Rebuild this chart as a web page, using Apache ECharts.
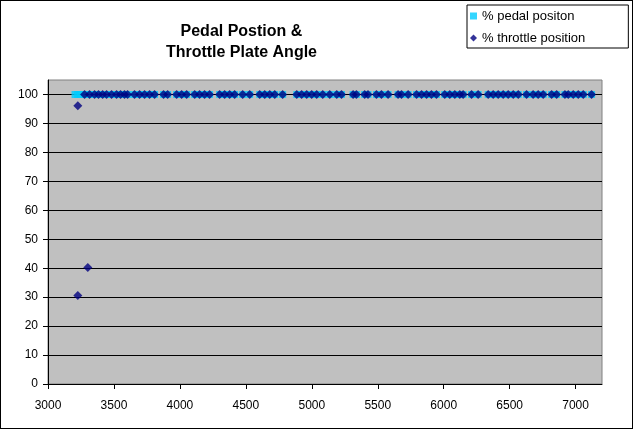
<!DOCTYPE html>
<html>
<head>
<meta charset="utf-8">
<script src="https://cdn.jsdelivr.net/npm/echarts@6/dist/echarts.min.js"></script>
<style>
html,body{margin:0;padding:0;background:#fff;}
#frame{width:633px;height:429px;border:1px solid #000;box-sizing:border-box;position:relative;}
#chart{position:absolute;left:-1px;top:-1px;width:634px;height:430px;}
</style>
</head>
<body>
<div id="frame"><div id="chart"></div></div>
<script>
// RPM values where pedal position was logged
const pedalRpm = [3205, 3225, 3245, 3277, 3315, 3353, 3383, 3414, 3444, 3482, 3520, 3550, 3580, 3603, 3656, 3694, 3732, 3770, 3808, 3876, 3907, 3975, 4013, 4051, 4112, 4149, 4187, 4225, 4301, 4339, 4377, 4415, 4476, 4529, 4605, 4643, 4681, 4719, 4779, 4886, 4923, 4961, 4999, 5037, 5083, 5136, 5189, 5225, 5313, 5338, 5401, 5426, 5490, 5528, 5578, 5654, 5680, 5730, 5794, 5832, 5870, 5907, 5945, 6008, 6046, 6084, 6122, 6147, 6211, 6261, 6337, 6375, 6413, 6451, 6489, 6527, 6565, 6628, 6678, 6716, 6754, 6818, 6856, 6919, 6944, 6982, 7020, 7058, 7121];
const pedalPct = [100, 100, 100, 100, 100, 100, 100, 100, 100, 100, 100, 100, 100, 100, 100, 100, 100, 100, 100, 100, 100, 100, 100, 100, 100, 100, 100, 100, 100, 100, 100, 100, 100, 100, 100, 100, 100, 100, 100, 100, 100, 100, 100, 100, 100, 100, 100, 100, 100, 100, 100, 100, 100, 100, 100, 100, 100, 100, 100, 100, 100, 100, 100, 100, 100, 100, 100, 100, 100, 100, 100, 100, 100, 100, 100, 100, 100, 100, 100, 100, 100, 100, 100, 100, 100, 100, 100, 100, 100];
// RPM values where throttle plate position was logged
const throttleRpm = [3226, 3226, 3302, 3277, 3315, 3353, 3383, 3414, 3444, 3482, 3520, 3550, 3580, 3603, 3656, 3694, 3732, 3770, 3808, 3876, 3907, 3975, 4013, 4051, 4112, 4149, 4187, 4225, 4301, 4339, 4377, 4415, 4476, 4529, 4605, 4643, 4681, 4719, 4779, 4886, 4923, 4961, 4999, 5037, 5083, 5136, 5189, 5225, 5313, 5338, 5401, 5426, 5490, 5528, 5578, 5654, 5680, 5730, 5794, 5832, 5870, 5907, 5945, 6008, 6046, 6084, 6122, 6147, 6211, 6261, 6337, 6375, 6413, 6451, 6489, 6527, 6565, 6628, 6678, 6716, 6754, 6818, 6856, 6919, 6944, 6982, 7020, 7058, 7121];
const throttlePct = [96.1, 30.6, 40.2, 100, 100, 100, 100, 100, 100, 100, 100, 100, 100, 100, 100, 100, 100, 100, 100, 100, 100, 100, 100, 100, 100, 100, 100, 100, 100, 100, 100, 100, 100, 100, 100, 100, 100, 100, 100, 100, 100, 100, 100, 100, 100, 100, 100, 100, 100, 100, 100, 100, 100, 100, 100, 100, 100, 100, 100, 100, 100, 100, 100, 100, 100, 100, 100, 100, 100, 100, 100, 100, 100, 100, 100, 100, 100, 100, 100, 100, 100, 100, 100, 100, 100, 100, 100, 100, 100];
const xTicks = [3000, 3500, 4000, 4500, 5000, 5500, 6000, 6500, 7000];
const yTicks = [0, 10, 20, 30, 40, 50, 60, 70, 80, 90, 100];
const seriesNames = ['% pedal positon', '% throttle position'];
const titleText = 'Pedal Postion &\nThrottle Plate Angle';

const font = '"Liberation Sans", Arial, sans-serif';
const chart = echarts.init(document.getElementById('chart'), null, {renderer: 'canvas'});
const zip = (xs, ys) => xs.map((x, i) => [x, ys[i]]);

chart.setOption({
  animation: false,
  backgroundColor: 'transparent',
  textStyle: {fontFamily: font},
  title: {
    text: titleText,
    left: 'center',
    top: 16,
    textStyle: {fontFamily: font, fontSize: 16, fontWeight: 'bold', color: '#000', lineHeight: 21},
    textAlign: 'center'
  },
  legend: {
    orient: 'vertical',
    left: 467,
    top: 5,
    padding: [3, 43, 2, 3],
    itemGap: 6,
    itemWidth: 7,
    itemHeight: 7,
    backgroundColor: '#fff',
    borderColor: '#000',
    borderWidth: 1,
    borderRadius: 0,
    textStyle: {fontFamily: font, fontSize: 13, color: '#000', lineHeight: 16},
    data: [
      {name: seriesNames[0], icon: 'rect'},
      {name: seriesNames[1], icon: 'diamond'}
    ]
  },
  grid: {
    left: 48, right: 32, top: 80, bottom: 46,
    show: true,
    backgroundColor: '#c0c0c0',
    borderColor: '#808080',
    borderWidth: 1
  },
  xAxis: {
    type: 'value',
    min: 3000, max: 7200, interval: 500,
    axisLine: {show: true, lineStyle: {color: '#000', width: 1}},
    axisTick: {show: true, inside: false, length: 5, lineStyle: {color: '#000'}, customValues: xTicks},
    axisLabel: {customValues: xTicks, margin: 16, fontFamily: font, fontSize: 12, color: '#000', formatter: v => String(v)},
    splitLine: {show: false}
  },
  yAxis: {
    type: 'value',
    min: 0, max: 105, interval: 5,
    axisLine: {show: true, lineStyle: {color: '#000', width: 1}},
    axisTick: {show: true, inside: false, length: 5, lineStyle: {color: '#000'}, customValues: yTicks},
    axisLabel: {customValues: yTicks, margin: 10, fontFamily: font, fontSize: 12, color: '#000', formatter: v => String(v)},
    splitLine: {show: true, lineStyle: {color: '#000', width: 1}}
  },
  series: [
    {
      name: seriesNames[0],
      type: 'scatter',
      symbol: 'rect',
      symbolSize: 7,
      itemStyle: {color: '#00ccff'},
      data: zip(pedalRpm, pedalPct),
      z: 2
    },
    {
      name: seriesNames[1],
      type: 'scatter',
      symbol: 'diamond',
      symbolSize: 9,
      itemStyle: {color: '#000080'},
      data: zip(throttleRpm, throttlePct),
      z: 3
    }
  ]
});
</script>
</body>
</html>
